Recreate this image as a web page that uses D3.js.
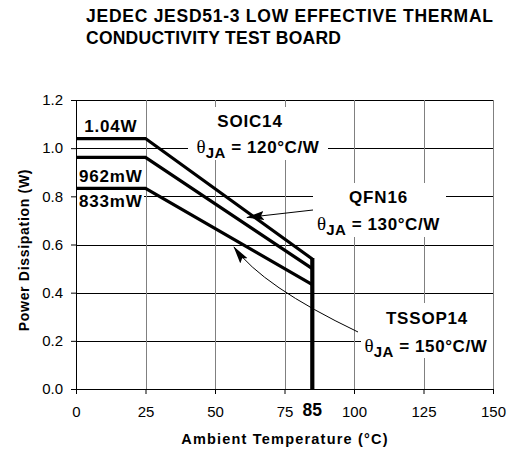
<!DOCTYPE html>
<html>
<head>
<meta charset="utf-8">
<script src="https://cdn.jsdelivr.net/npm/d3@7/dist/d3.min.js"></script>
<style>
  html, body { margin: 0; padding: 0; background: #fff; }
  svg { display: block; }
  text { font-family: "Liberation Sans", Arial, Helvetica, sans-serif; fill: #000; }
</style>
</head>
<body>
<div id="chart"></div>
<script>
// Ambient temperature breakpoints (°C) for the derating curves
const temps = [0, 25, 85];

// Package names, thermal resistance and power dissipation at each breakpoint
const packages = ["SOIC14", "QFN16", "TSSOP14"];
const thetaJA = [120, 130, 150];
const soic14Power = [1.04, 1.04, 0.54];
const qfn16Power = [0.962, 0.962, 0.50];
const tssop14Power = [0.833, 0.833, 0.433];

// Axis ticks
const xTicks = [0, 25, 50, 75, 100, 125, 150];
const yTicks = [0, 0.2, 0.4, 0.6, 0.8, 1.0, 1.2];
const maxTemp = 85;

// Labels for the flat (maximum) power segments
const maxPowerLabels = ["1.04W", "962mW", "833mW"];

const series = [soic14Power, qfn16Power, tssop14Power].map((p, i) => ({
  name: packages[i],
  theta: thetaJA[i],
  points: temps.map((t, j) => ({ t, p: p[j] }))
}));

const W = 510, H = 449;
const svg = d3.select("#chart").append("svg").attr("width", W).attr("height", H);

const x = d3.scaleLinear().domain([0, 150]).range([76, 493]);
const y = d3.scaleLinear().domain([0, 1.2]).range([389, 100]);
const px = v => Math.round(v) + 0.5;

// Title
const title = svg.append("text")
  .attr("font-size", 17.5).attr("font-weight", "bold");
title.append("tspan").attr("x", 86).attr("y", 22)
  .attr("textLength", 407).attr("lengthAdjust", "spacing")
  .text("JEDEC JESD51-3 LOW EFFECTIVE THERMAL");
title.append("tspan").attr("x", 86).attr("y", 44)
  .attr("textLength", 255).attr("lengthAdjust", "spacing")
  .text("CONDUCTIVITY TEST BOARD");

// Gridlines
const grid = svg.append("g");
grid.selectAll("line.h").data(yTicks.slice(1)).join("line")
  .attr("x1", x(0)).attr("x2", x(150))
  .attr("y1", d => px(y(d))).attr("y2", d => px(y(d)))
  .attr("stroke", "#000").attr("stroke-width", 1);
grid.selectAll("line.v").data(xTicks.slice(1)).join("line")
  .attr("x1", d => px(x(d))).attr("x2", d => px(x(d)))
  .attr("y1", y(1.2)).attr("y2", y(0))
  .attr("stroke", "#808080").attr("stroke-width", 1);

// White label backgrounds that interrupt the gridlines
const boxes = [
  [188, 107, 140, 53],
  [313, 183, 133, 54],
  [361, 303, 132, 55],
  [77, 191, 67, 18]
];
svg.append("g").selectAll("rect").data(boxes).join("rect")
  .attr("x", d => d[0]).attr("y", d => d[1])
  .attr("width", d => d[2]).attr("height", d => d[3])
  .attr("fill", "#fff");

// Right border
svg.append("line")
  .attr("x1", px(x(150))).attr("x2", px(x(150)))
  .attr("y1", y(1.2)).attr("y2", y(0))
  .attr("stroke", "#808080");

// Axes
const yAxis = svg.append("g")
  .attr("transform", `translate(${x(0)},0)`)
  .call(d3.axisLeft(y).tickValues(yTicks).tickSize(5).tickPadding(8).tickFormat(d3.format(".1f")));
const xAxis = svg.append("g")
  .attr("transform", `translate(0,${y(0)})`)
  .call(d3.axisBottom(x).tickValues(xTicks).tickSize(5).tickPadding(12).tickFormat(d3.format("d")));
[yAxis, xAxis].forEach(a => {
  a.select(".domain").attr("stroke", "#000");
  a.selectAll(".tick line").attr("stroke", "#000");
  a.selectAll(".tick text")
    .attr("font-family", "'Liberation Sans', Arial, sans-serif")
    .attr("font-size", 15).attr("fill", "#000");
});

// Derating curves
const line = d3.line().x(d => x(d.t)).y(d => y(d.p));
svg.append("g").selectAll("path").data(series).join("path")
  .attr("d", d => line(d.points))
  .attr("fill", "none").attr("stroke", "#000")
  .attr("stroke-width", 3.2).attr("stroke-linejoin", "miter");

// Drop to zero at the maximum ambient temperature
svg.append("line")
  .attr("x1", x(maxTemp)).attr("x2", x(maxTemp))
  .attr("y1", y(d3.max(series, s => s.points[s.points.length - 1].p)) - 1)
  .attr("y2", y(0))
  .attr("stroke", "#000").attr("stroke-width", 4.2);

svg.append("text")
  .attr("x", x(maxTemp)).attr("y", 416)
  .attr("text-anchor", "middle")
  .attr("font-size", 17.5).attr("font-weight", "bold")
  .text(String(maxTemp));

// Maximum power labels
const maxLabelY = [131.5, 182, 206.5];
svg.append("g").selectAll("text").data(maxPowerLabels).join("text")
  .attr("x", (x(0) + x(25)) / 2)
  .attr("y", (d, i) => maxLabelY[i])
  .attr("text-anchor", "middle")
  .attr("font-size", 17).attr("font-weight", "bold").attr("letter-spacing", 0.8)
  .text(d => d);

// Package annotations
const annot = [
  { cx: 250, nameY: 127, thetaCx: 258, thetaY: 153 },
  { cx: 378.5, nameY: 203, thetaCx: 378.5, thetaY: 230 },
  { cx: 427, nameY: 324, thetaCx: 426, thetaY: 352 }
];
annot.forEach((a, i) => {
  svg.append("text")
    .attr("x", a.cx).attr("y", a.nameY)
    .attr("text-anchor", "middle")
    .attr("font-size", 17).attr("font-weight", "bold").attr("letter-spacing", 0.8)
    .text(series[i].name);
  const t = svg.append("text")
    .attr("x", a.thetaCx).attr("y", a.thetaY)
    .attr("text-anchor", "middle")
    .attr("font-size", 17).attr("font-weight", "bold");
  t.append("tspan")
    .attr("font-family", "'Liberation Serif', 'Times New Roman', serif")
    .attr("font-weight", "normal").attr("font-size", 19).text("θ");
  t.append("tspan").attr("font-size", 15).attr("dy", 5).attr("letter-spacing", 0.5).text("JA");
  t.append("tspan").attr("dy", -5).attr("letter-spacing", 0.6).text(` = ${series[i].theta}°C/W`);
});

// Arrow pointers
const defs = svg.append("defs");
defs.append("marker")
  .attr("id", "arrowhead")
  .attr("viewBox", "0 -5 18 10")
  .attr("refX", 17).attr("refY", 0)
  .attr("markerWidth", 18).attr("markerHeight", 10)
  .attr("markerUnits", "userSpaceOnUse")
  .attr("orient", "auto")
  .append("path").attr("d", "M0,-4.5L18,0L0,4.5L3,0Z").attr("fill", "#000");

svg.append("path")
  .attr("d", "M313,210 L247,217.5")
  .attr("fill", "none").attr("stroke", "#000").attr("stroke-width", 1)
  .attr("marker-end", "url(#arrowhead)");

svg.append("path")
  .attr("d", "M358,332 Q262,286 234,247")
  .attr("fill", "none").attr("stroke", "#000").attr("stroke-width", 1)
  .attr("marker-end", "url(#arrowhead)");

// Axis titles
svg.append("text")
  .attr("transform", "translate(29,250) rotate(-90)")
  .attr("text-anchor", "middle")
  .attr("font-size", 14).attr("font-weight", "bold").attr("letter-spacing", 0.7)
  .text("Power Dissipation (W)");

svg.append("text")
  .attr("x", 285).attr("y", 444)
  .attr("text-anchor", "middle")
  .attr("font-size", 14.5).attr("font-weight", "bold").attr("letter-spacing", 1.2)
  .text("Ambient Temperature (°C)");
</script>
</body>
</html>
